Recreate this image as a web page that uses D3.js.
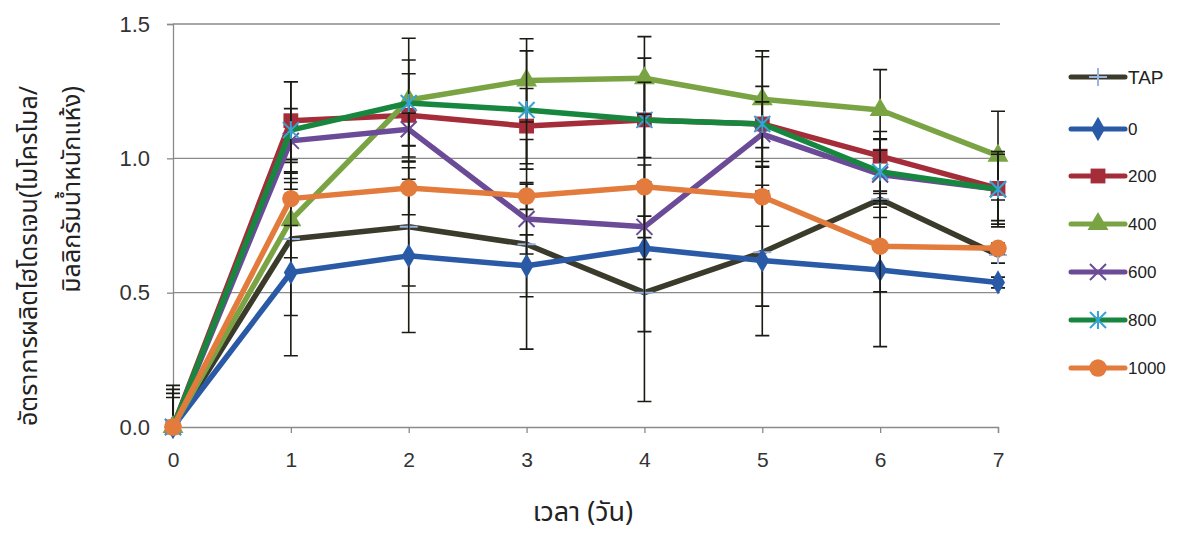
<!DOCTYPE html>
<html><head><meta charset="utf-8">
<script src="https://cdn.jsdelivr.net/npm/d3@7"></script>
<style>
html,body{margin:0;padding:0;background:#fff;}
svg{display:block;}
</style></head>
<body>
<svg id="chart" width="1182" height="533"></svg>
<script>
// ---- data ----
const days = [0, 1, 2, 3, 4, 5, 6, 7];
const seriesNames = ["TAP", "0", "200", "400", "600", "800", "1000"];
const yTicks = [0.0, 0.5, 1.0, 1.5];
const xTicks = [0, 1, 2, 3, 4, 5, 6, 7];
const valTAP  = [0, 0.70, 0.745, 0.68, 0.50, 0.65, 0.848, 0.64];
const val0    = [0, 0.575, 0.637, 0.60, 0.665, 0.62, 0.584, 0.538];
const val200  = [0, 1.14, 1.16, 1.12, 1.143, 1.128, 1.008, 0.888];
const val400  = [0, 0.77, 1.217, 1.29, 1.298, 1.22, 1.18, 1.01];
const val600  = [0, 1.065, 1.108, 0.774, 0.745, 1.09, 0.94, 0.885];
const val800  = [0, 1.105, 1.206, 1.18, 1.143, 1.128, 0.95, 0.885];
const val1000 = [0, 0.85, 0.89, 0.86, 0.894, 0.857, 0.673, 0.665];
const errTAP  = [0.155, 0.285, 0.22, 0.39, 0.405, 0.20, 0.03, 0.03];
const err0    = [0.14, 0.31, 0.285, 0.115, 0.31, 0.28, 0.285, 0.02];
const err200  = [0.125, 0.145, 0.155, 0.14, 0.23, 0.25, 0.065, 0.12];
const err400  = [0.11, 0.14, 0.23, 0.155, 0.155, 0.18, 0.15, 0.165];
const err600  = [0, 0.12, 0.06, 0.13, 0.04, 0.12, 0.16, 0.13];
const err800  = [0, 0.18, 0.16, 0.22, 0.14, 0.14, 0.12, 0.14];
const err1000 = [0, 0.10, 0.10, 0.05, 0.27, 0.11, 0.17, 0.02];
const xTitle = "เวลา (วัน)";
const yTitle1 = "อัตราการผลิตไฮโดรเจน(ไมโครโมล/";
const yTitle2 = "มิลลิกรัมน้ำหนักแห้ง)";

// ---- styling ----
const values = [valTAP, val0, val200, val400, val600, val800, val1000];
const errors = [errTAP, err0, err200, err400, err600, err800, err1000];
const lineColors = ["#3b3b2c", "#2a5aa6", "#a52d3a", "#7aa444", "#6b4b97", "#17873f", "#e27b3c"];
const markerType = ["plus", "diamond", "square", "triangle", "x", "star", "circle"];
const markerColors = ["#9cb4e0", "#2a5aa6", "#a52d3a", "#7aa444", "#6b4b97", "#3aa2d2", "#e27b3c"];

const svg = d3.select("#chart");
const x = d3.scaleLinear().domain([0, 7]).range([173, 998]);
const y = d3.scaleLinear().domain([0, 1.5]).range([427, 24]);
const tickFont = "'Liberation Sans', Arial, sans-serif";
const thaiFont = "'Noto Sans Thai', 'Noto Sans', 'DejaVu Sans', sans-serif";

// grid
svg.append("g").selectAll("line").data(yTicks.filter(d => d > 0)).join("line")
  .attr("x1", x(0)).attr("x2", 1000)
  .attr("y1", d => y(d)).attr("y2", d => y(d))
  .attr("stroke", "#8a8a8a").attr("stroke-width", 1.3);

// y axis
const yAxis = svg.append("g").attr("transform", `translate(${x(0)},0)`)
  .call(d3.axisLeft(y).tickValues(yTicks).tickFormat(d3.format(".1f")).tickSizeOuter(0).tickSize(6).tickPadding(17));
yAxis.select(".domain").attr("stroke", "#8a8a8a").attr("stroke-width", 1.3);
yAxis.selectAll(".tick line").attr("stroke", "#8a8a8a").attr("stroke-width", 1.3);
yAxis.selectAll("text").attr("font-family", tickFont).attr("font-size", 22).attr("fill", "#333");

// x axis
const xAxis = svg.append("g").attr("transform", `translate(0,${y(0)})`)
  .call(d3.axisBottom(x).tickValues(xTicks).tickFormat(d3.format("d")).tickSizeOuter(0).tickSize(6).tickPadding(19));
xAxis.select(".domain").attr("stroke", "#8a8a8a").attr("stroke-width", 1.3);
xAxis.selectAll(".tick line").attr("stroke", "#8a8a8a").attr("stroke-width", 1.3);
xAxis.selectAll("text").attr("font-family", tickFont).attr("font-size", 21).attr("fill", "#333");

// titles
svg.append("text").attr("x", 583).attr("y", 521).attr("text-anchor", "middle")
  .attr("font-family", thaiFont).attr("font-size", 27).attr("fill", "#222").text(xTitle);
svg.append("text").attr("transform", "translate(37,86) rotate(-90)").attr("text-anchor", "end")
  .attr("font-family", thaiFont).attr("font-size", 25).attr("fill", "#222").text(yTitle1);
svg.append("text").attr("transform", "translate(80,86) rotate(-90)").attr("text-anchor", "end")
  .attr("font-family", thaiFont).attr("font-size", 25).attr("fill", "#222").text(yTitle2);

function drawMarker(g, type, color, cx, cy, s) {
  if (type === "plus") {
    g.append("path").attr("d", `M${cx - 9},${cy}H${cx + 9}M${cx},${cy - 9}V${cy + 9}`)
      .attr("stroke", color).attr("stroke-width", 2).attr("fill", "none");
  } else if (type === "x") {
    g.append("path").attr("d", `M${cx - 8},${cy - 8}L${cx + 8},${cy + 8}M${cx - 8},${cy + 8}L${cx + 8},${cy - 8}`)
      .attr("stroke", color).attr("stroke-width", 2).attr("fill", "none");
  } else if (type === "star") {
    g.append("path").attr("d", `M${cx - 8},${cy - 8}L${cx + 8},${cy + 8}M${cx - 8},${cy + 8}L${cx + 8},${cy - 8}M${cx},${cy - 9}V${cy + 9}`)
      .attr("stroke", color).attr("stroke-width", 2).attr("fill", "none");
  } else {
    const sym = { diamond: d3.symbolDiamond, square: d3.symbolSquare, triangle: d3.symbolTriangle, circle: d3.symbolCircle }[type];
    const size = { diamond: 170, square: 220, triangle: 190, circle: 240 }[type] * s;
    g.append("path").attr("d", d3.symbol(sym, size)())
      .attr("transform", `translate(${cx},${cy})`).attr("fill", color);
  }
}

svg.append("clipPath").attr("id", "plotclip").append("rect")
  .attr("x", 150).attr("y", 0).attr("width", 900).attr("height", y(0) + 1);

const line = d3.line().x((d, i) => x(days[i])).y(d => y(d));
const plot = svg.append("g");
seriesNames.forEach((name, si) => {
  const g = plot.append("g");
  g.append("path").datum(values[si]).attr("d", line)
    .attr("fill", "none").attr("stroke", lineColors[si]).attr("stroke-width", 5.5)
    .attr("stroke-linejoin", "round").attr("stroke-linecap", "round");
  const eg = g.append("g").attr("clip-path", "url(#plotclip)");
  values[si].forEach((v, i) => {
    const e = errors[si][i];
    if (e <= 0) return;
    const cx = x(days[i]);
    eg.append("path").attr("d", `M${cx},${y(v - e)}V${y(v + e)}M${cx - 7},${y(v + e)}H${cx + 7}M${cx - 7},${y(v - e)}H${cx + 7}`)
      .attr("stroke", "#1b1b14").attr("stroke-width", 1.6).attr("fill", "none");
  });
  values[si].forEach((v, i) => drawMarker(g, markerType[si], markerColors[si], x(days[i]), y(v), 1));
});

// legend
const legendY = [77, 129, 176, 224, 272, 320, 368];
const lg = svg.append("g");
seriesNames.forEach((name, si) => {
  const ly = legendY[si];
  lg.append("line").attr("x1", 1071).attr("x2", 1125).attr("y1", ly).attr("y2", ly)
    .attr("stroke", lineColors[si]).attr("stroke-width", 5).attr("stroke-linecap", "round");
  drawMarker(lg, markerType[si], markerColors[si], 1098, ly, 1);
  lg.append("text").attr("x", 1128).attr("y", ly).attr("dy", "0.36em")
    .attr("font-family", tickFont).attr("font-size", si === 0 ? 19 : 17)
    .attr("fill", "#222").text(name);
});
</script>
</body></html>
